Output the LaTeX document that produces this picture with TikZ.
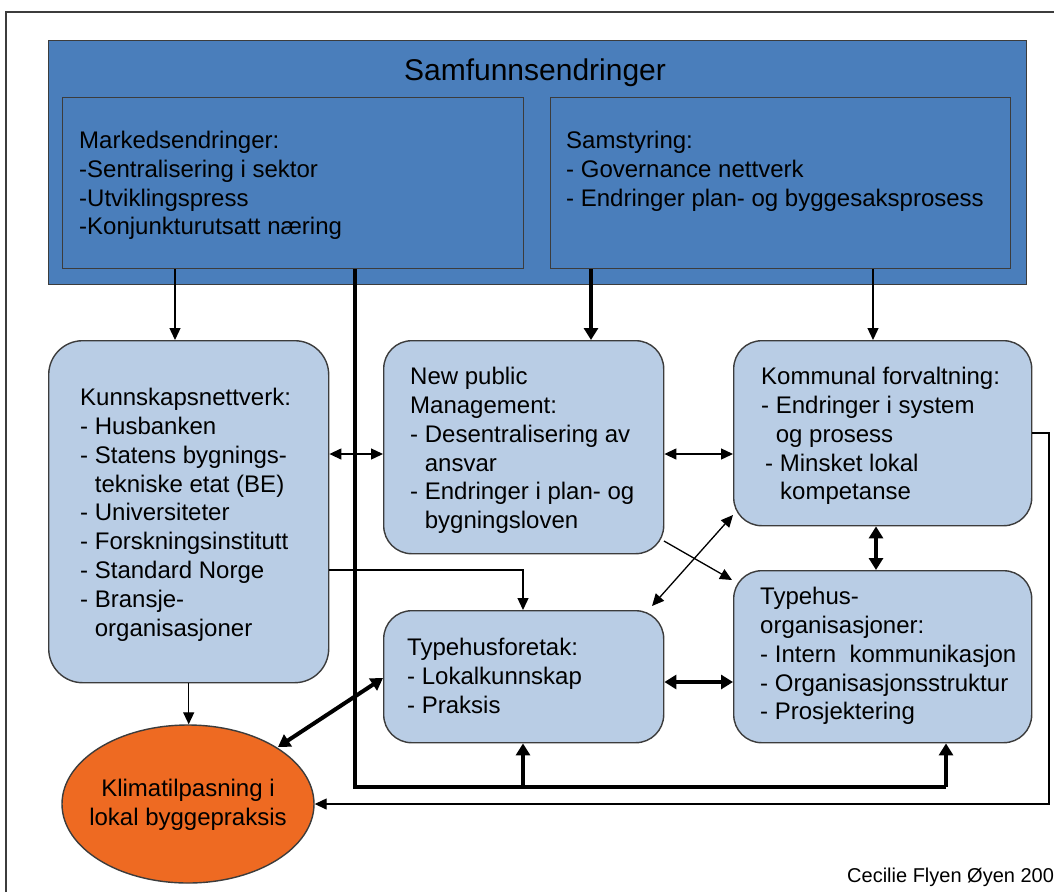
\documentclass[tikz,border=0pt]{standalone}
\usepackage{fontspec}
\setmainfont{Liberation Sans}
\usetikzlibrary{arrows.meta,shapes.geometric}
\definecolor{dblue}{HTML}{4A7EBB}
\definecolor{lblue}{HTML}{B9CDE5}
\definecolor{orng}{HTML}{EE6A22}
\definecolor{bord}{HTML}{3C3C3C}
\begin{document}
\begin{tikzpicture}[x=1pt,y=-1pt,
  dbox/.style={draw=bord,fill=dblue,line width=1.4pt,inner sep=0pt},
  lbox/.style={draw=bord,fill=lblue,line width=1.4pt,rounded corners=28pt,inner sep=0pt},
  txt/.style={font=\fontsize{24}{28.8}\selectfont,align=left,inner sep=0pt,text=black},
  thin/.style={line width=1.3pt,draw=black},
  thick/.style={line width=4pt,draw=black},
  tarr/.style={thin,-{Triangle[length=12pt,width=11pt]}},
  tdarr/.style={thin,{Triangle[length=12pt,width=11pt]}-{Triangle[length=12pt,width=11pt]}},
  karr/.style={thick,-{Triangle[length=12pt,width=14pt]}},
  kdarr/.style={thick,{Triangle[length=12pt,width=14pt]}-{Triangle[length=12pt,width=14pt]}}]
\useasboundingbox (0,0) rectangle (1054,892);
\fill[white] (0,0) rectangle (1054,892);
\draw[line width=1.2pt,draw=bord] (6,892) -- (6,12) -- (1054,12);

% top boxes
\node[dbox,minimum width=978pt,minimum height=244pt,anchor=north west] (top) at (48,40) {};
\node[font=\fontsize{30}{36}\selectfont,inner sep=0pt] (title) at (535,73) {Samfunnsendringer};
\node[dbox,minimum width=461pt,minimum height=171pt,anchor=north west] (mL) at (62,97) {};
\node[dbox,minimum width=460pt,minimum height=171pt,anchor=north west] (mR) at (550,97) {};
\node[txt,anchor=north west] (mLt) at (79,131) {Markedsendringer:\\-Sentralisering i sektor\\-Utviklingspress\\-Konjunkturutsatt næring};
\node[txt,anchor=north west] (mRt) at (566,131) {Samstyring:\\- Governance nettverk\\- Endringer plan- og byggesaksprosess};

% light boxes
\node[lbox,rounded corners=34pt,minimum width=280pt,minimum height=342pt,anchor=north west] (kn) at (48,340) {};
\node[lbox,minimum width=280pt,minimum height=213pt,anchor=north west] (npm) at (383,340) {};
\node[lbox,minimum width=298pt,minimum height=185pt,anchor=north west] (kom) at (733,340) {};
\node[lbox,minimum width=280pt,minimum height=132pt,anchor=north west] (tf) at (383,610) {};
\node[lbox,minimum width=298pt,minimum height=172pt,anchor=north west] (to) at (733,570) {};
\node[ellipse,draw=bord,fill=orng,line width=1.4pt,minimum width=252pt,minimum height=158pt,inner sep=0pt] (kl) at (188,804) {};

\node[txt,anchor=north west] (knt) at (80,388) {Kunnskapsnettverk:\\- Husbanken\\- Statens bygnings-\\\hphantom{- }tekniske etat (BE)\\- Universiteter\\- Forskningsinstitutt\\- Standard Norge\\- Bransje-\\\hphantom{- }organisasjoner};
\node[txt,anchor=north west] (npmt) at (410,367) {New public\\Management:\\- Desentralisering av\\\hphantom{- }ansvar\\- Endringer i plan- og\\\hphantom{- }bygningsloven};
\node[txt,anchor=north west] (komt) at (761,367) {Kommunal forvaltning:\\- Endringer i system\\\hphantom{- }og prosess\\\hspace*{4pt}- Minsket lokal\\\hspace*{19pt}kompetanse};
\node[txt,anchor=north west] (tft) at (407,638) {Typehusforetak:\\- Lokalkunnskap\\- Praksis};
\node[txt,anchor=north west] (tot) at (760,587) {Typehus-\\organisasjoner:\\- Intern\ \ kommunikasjon\\- Organisasjonsstruktur\\- Prosjektering};
\node[txt,align=center] (klt) at (188,805) {Klimatilpasning i\\lokal byggepraksis};

\node[font=\fontsize{20}{23}\selectfont,anchor=base west,inner sep=0pt] (cr) at (847,882) {Cecilie Flyen Øyen 200};

% helper coordinates
\coordinate (x175) at (175,0);
\coordinate (x523) at (523,0);
\coordinate (x591) at (591,0);
\coordinate (x873) at (873,0);
\coordinate (x876) at (876,0);
\coordinate (x946) at (946,0);
\coordinate (x355) at (355,0);
\coordinate (y454) at (0,454);
\coordinate (y570) at (0,570);
\coordinate (y682) at (0,682);
\coordinate (y787) at (0,787);
\coordinate (y433) at (0,433);
\coordinate (y678) at (0,678);
\coordinate (loopL) at (355,787);
\coordinate (loopR) at (946,787);
\coordinate (kr) at (1049,433);
\coordinate (kb) at (1049,804);
\coordinate (a8s) at (664,541);
\coordinate (a8e) at (732,580);
\coordinate (a9s) at (733,515);
\coordinate (a9e) at (652,606);
\coordinate (a12s) at (278,747);

% connectors
\draw[tarr] (x175 |- mL.south) -- (x175 |- kn.north);
\draw[karr] (x591 |- mR.south) -- (x591 |- npm.north);
\draw[tarr] (x873 |- mR.south) -- (x873 |- kom.north);
\draw[thick] (x355 |- mL.south) -- (loopL) -- (loopR);
\draw[karr] (loopR) -- (x946 |- to.south);
\draw[karr] (x523 |- y787) -- (x523 |- tf.south);
\draw[tdarr] (kn.east |- y454) -- (npm.west |- y454);
\draw[tdarr] (npm.east |- y454) -- (kom.west |- y454);
\draw[thin,-{Triangle[length=12pt,width=11pt]}] (kn.east |- y570) -- (x523 |- y570) -- (x523 |- tf.north);
\draw[tarr] (a8s) -- (a8e);
\draw[tdarr] (a9s) -- (a9e);
\draw[kdarr] (x876 |- kom.south) -- (x876 |- to.north);
\draw[kdarr] (tf.east |- y682) -- (to.west |- y682);
\draw[kdarr] (a12s) -- (tf.west |- y678);
\draw[tarr] (kn.south) -- (kn.south |- kl.north);
\draw[thin,-{Triangle[length=12pt,width=11pt]}] (kom.east |- y433) -- (kr) -- (kb) -- (kl.east);
\end{tikzpicture}
\end{document}
